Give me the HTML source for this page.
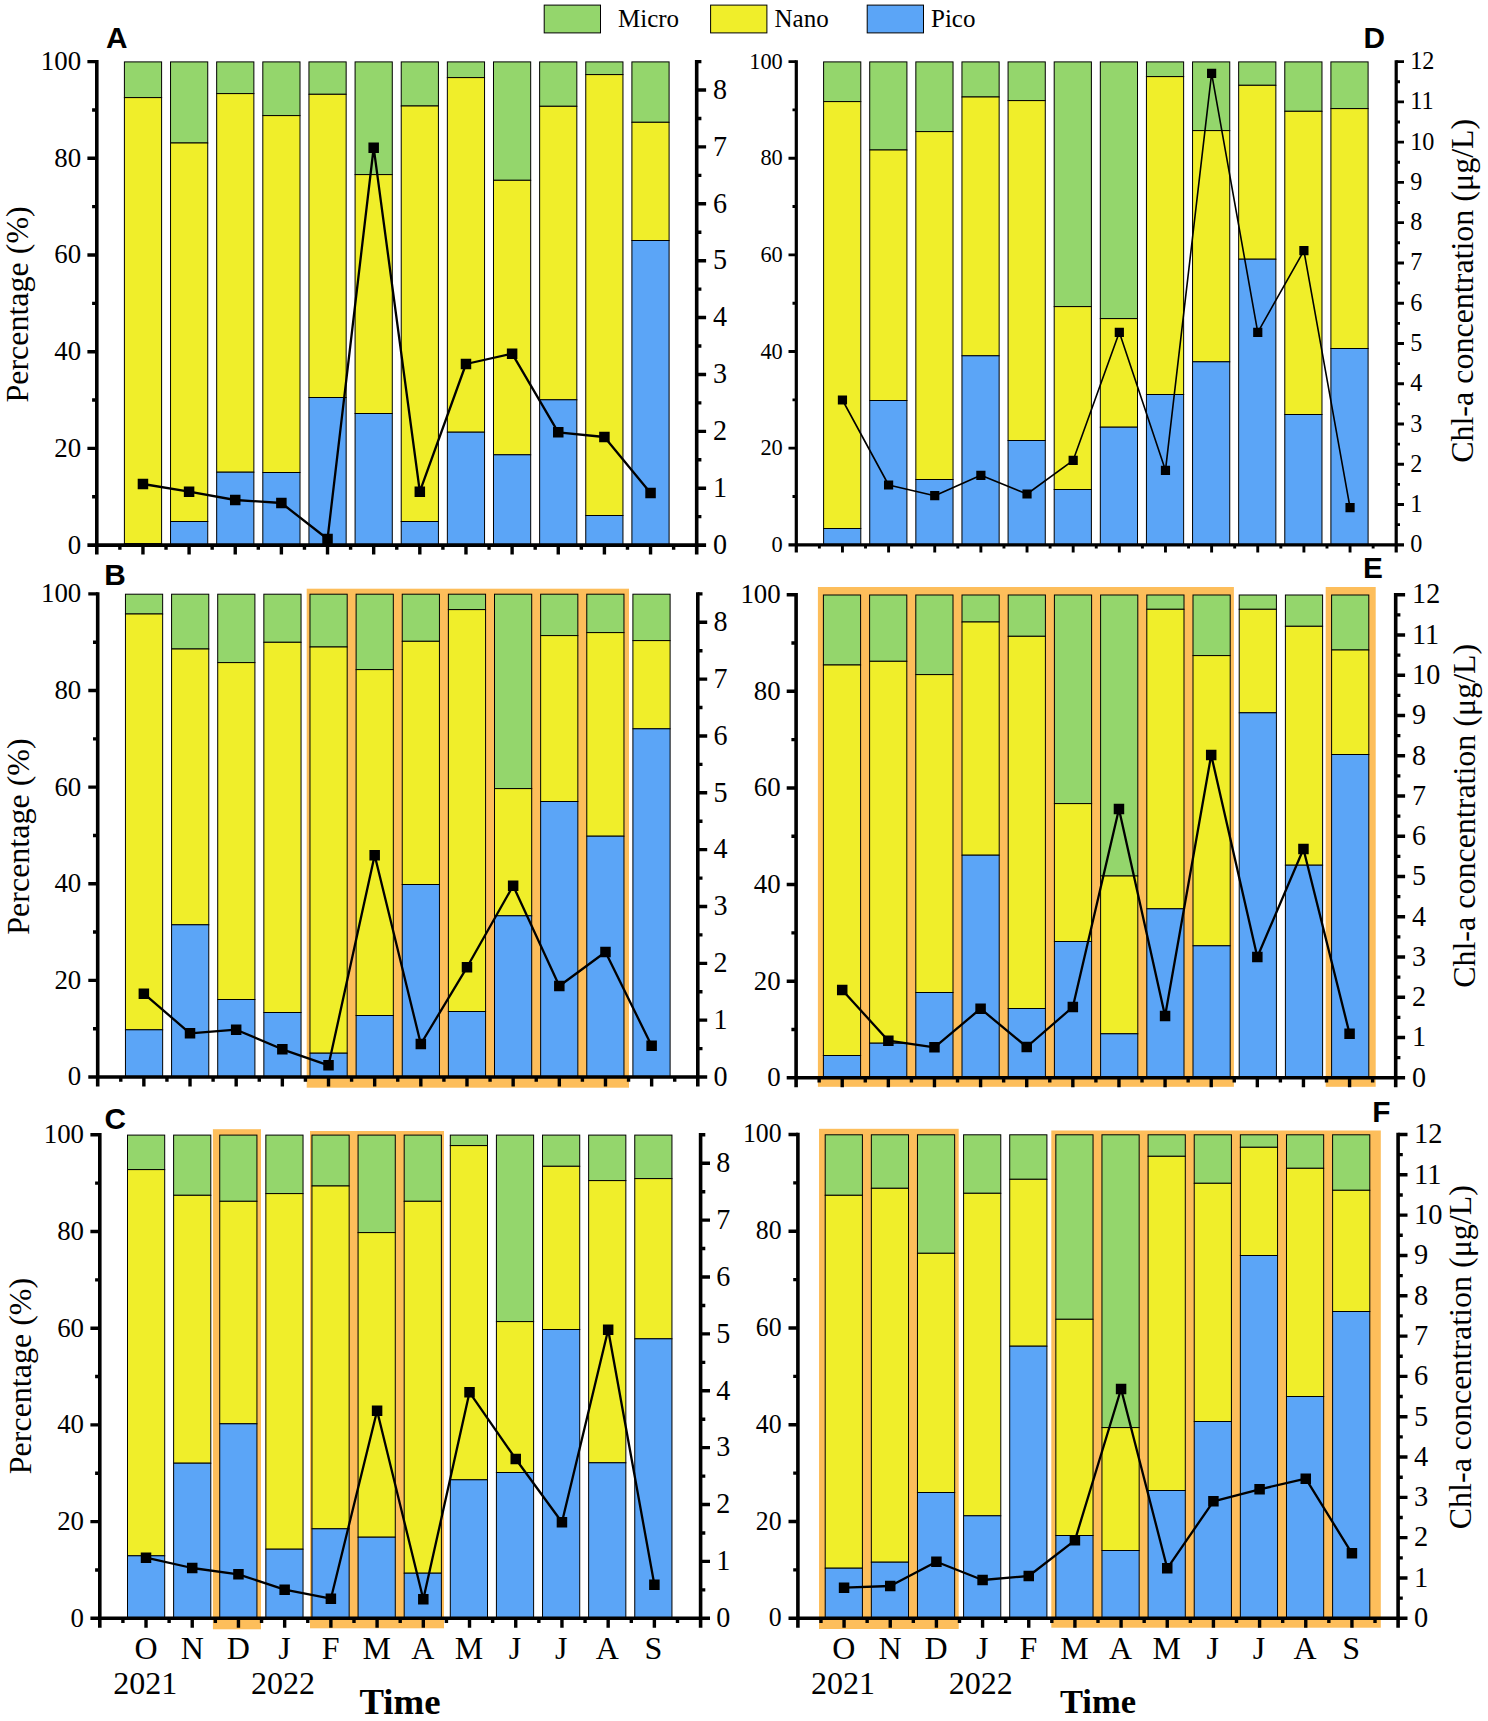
<!DOCTYPE html>
<html><head><meta charset="utf-8"><title>Figure</title>
<style>
html,body{margin:0;padding:0;background:#fff;}
body{width:1488px;height:1721px;overflow:hidden;font-family:"Liberation Serif",serif;}
svg{display:block;}
</style></head><body>
<svg width="1488" height="1721" viewBox="0 0 1488 1721">
<rect width="1488" height="1721" fill="#fff"/>
<g id="panelA">
<g stroke="#000" stroke-width="1">
<rect x="124.4" y="61.9" width="37.2" height="35.7" fill="#94D66C"/><rect x="124.4" y="97.6" width="37.2" height="446.1" fill="#F0EE2A"/><rect x="124.4" y="543.7" width="37.2" height="1.4" fill="#5BA5F7"/>
<rect x="170.54" y="61.9" width="37.2" height="81.1" fill="#94D66C"/><rect x="170.54" y="143" width="37.2" height="378.5" fill="#F0EE2A"/><rect x="170.54" y="521.5" width="37.2" height="23.6" fill="#5BA5F7"/>
<rect x="216.67" y="61.9" width="37.2" height="31.7" fill="#94D66C"/><rect x="216.67" y="93.6" width="37.2" height="378.6" fill="#F0EE2A"/><rect x="216.67" y="472.2" width="37.2" height="72.9" fill="#5BA5F7"/>
<rect x="262.81" y="61.9" width="37.2" height="53.7" fill="#94D66C"/><rect x="262.81" y="115.6" width="37.2" height="356.9" fill="#F0EE2A"/><rect x="262.81" y="472.5" width="37.2" height="72.6" fill="#5BA5F7"/>
<rect x="308.95" y="61.9" width="37.2" height="32.4" fill="#94D66C"/><rect x="308.95" y="94.3" width="37.2" height="303.2" fill="#F0EE2A"/><rect x="308.95" y="397.5" width="37.2" height="147.6" fill="#5BA5F7"/>
<rect x="355.08" y="61.9" width="37.2" height="112.7" fill="#94D66C"/><rect x="355.08" y="174.6" width="37.2" height="238.9" fill="#F0EE2A"/><rect x="355.08" y="413.5" width="37.2" height="131.6" fill="#5BA5F7"/>
<rect x="401.22" y="61.9" width="37.2" height="44.1" fill="#94D66C"/><rect x="401.22" y="106" width="37.2" height="415.5" fill="#F0EE2A"/><rect x="401.22" y="521.5" width="37.2" height="23.6" fill="#5BA5F7"/>
<rect x="447.35" y="61.9" width="37.2" height="15.7" fill="#94D66C"/><rect x="447.35" y="77.6" width="37.2" height="354.6" fill="#F0EE2A"/><rect x="447.35" y="432.2" width="37.2" height="112.9" fill="#5BA5F7"/>
<rect x="493.49" y="61.9" width="37.2" height="118.4" fill="#94D66C"/><rect x="493.49" y="180.3" width="37.2" height="274.5" fill="#F0EE2A"/><rect x="493.49" y="454.8" width="37.2" height="90.3" fill="#5BA5F7"/>
<rect x="539.63" y="61.9" width="37.2" height="44.4" fill="#94D66C"/><rect x="539.63" y="106.3" width="37.2" height="293.5" fill="#F0EE2A"/><rect x="539.63" y="399.8" width="37.2" height="145.3" fill="#5BA5F7"/>
<rect x="585.76" y="61.9" width="37.2" height="12.7" fill="#94D66C"/><rect x="585.76" y="74.6" width="37.2" height="440.9" fill="#F0EE2A"/><rect x="585.76" y="515.5" width="37.2" height="29.6" fill="#5BA5F7"/>
<rect x="631.9" y="61.9" width="37.2" height="60.4" fill="#94D66C"/><rect x="631.9" y="122.3" width="37.2" height="118.2" fill="#F0EE2A"/><rect x="631.9" y="240.5" width="37.2" height="304.6" fill="#5BA5F7"/>
</g>
<g stroke="#000" stroke-width="3.6" fill="none">
<path d="M96.8 59.9V554.5"/>
<path d="M696.7 59.9V554.5"/>
<path d="M87.4 545.1H706.1"/>
</g>
<path d="M92.1 496.75H96.8M87.4 448.4H96.8M92.1 400.05H96.8M87.4 351.7H96.8M92.1 303.35H96.8M87.4 255H96.8M92.1 206.65H96.8M87.4 158.3H96.8M92.1 109.95H96.8M87.4 61.6H96.8M696.7 516.66H701.4M696.7 488.22H706.1M696.7 459.78H701.4M696.7 431.34H706.1M696.7 402.89H701.4M696.7 374.45H706.1M696.7 346.01H701.4M696.7 317.57H706.1M696.7 289.13H701.4M696.7 260.69H706.1M696.7 232.25H701.4M696.7 203.81H706.1M696.7 175.36H701.4M696.7 146.92H706.1M696.7 118.48H701.4M696.7 90.04H706.1M696.7 61.6H701.4M119.87 545.1V549.8M142.95 545.1V554.5M166.02 545.1V549.8M189.09 545.1V554.5M212.17 545.1V549.8M235.24 545.1V554.5M258.31 545.1V549.8M281.38 545.1V554.5M304.46 545.1V549.8M327.53 545.1V554.5M350.6 545.1V549.8M373.68 545.1V554.5M396.75 545.1V549.8M419.82 545.1V554.5M442.9 545.1V549.8M465.97 545.1V554.5M489.04 545.1V549.8M512.12 545.1V554.5M535.19 545.1V549.8M558.26 545.1V554.5M581.33 545.1V549.8M604.41 545.1V554.5M627.48 545.1V549.8M650.55 545.1V554.5M673.63 545.1V549.8" stroke="#000" stroke-width="3.4" fill="none"/>
<g font-family="Liberation Serif, serif" fill="#000">
<text transform="translate(81.1 553.5) scale(0.96 1)" font-size="28" text-anchor="end">0</text>
<text transform="translate(81.1 456.8) scale(0.96 1)" font-size="28" text-anchor="end">20</text>
<text transform="translate(81.1 360.1) scale(0.96 1)" font-size="28" text-anchor="end">40</text>
<text transform="translate(81.1 263.4) scale(0.96 1)" font-size="28" text-anchor="end">60</text>
<text transform="translate(81.1 166.7) scale(0.96 1)" font-size="28" text-anchor="end">80</text>
<text transform="translate(81.1 70) scale(0.96 1)" font-size="28" text-anchor="end">100</text>
<text transform="translate(713 553.89) scale(0.96 1)" font-size="29.3">0</text>
<text transform="translate(713 497.01) scale(0.96 1)" font-size="29.3">1</text>
<text transform="translate(713 440.13) scale(0.96 1)" font-size="29.3">2</text>
<text transform="translate(713 383.24) scale(0.96 1)" font-size="29.3">3</text>
<text transform="translate(713 326.36) scale(0.96 1)" font-size="29.3">4</text>
<text transform="translate(713 269.48) scale(0.96 1)" font-size="29.3">5</text>
<text transform="translate(713 212.6) scale(0.96 1)" font-size="29.3">6</text>
<text transform="translate(713 155.71) scale(0.96 1)" font-size="29.3">7</text>
<text transform="translate(713 98.83) scale(0.96 1)" font-size="29.3">8</text>
</g>
<polyline points="142.95,484 189.09,491.7 235.24,500 281.38,503 327.53,539 373.68,147.7 419.82,491.7 465.97,364 512.12,353.7 558.26,432.3 604.41,437 650.55,493" fill="none" stroke="#000" stroke-width="2.3" stroke-linejoin="round"/>
<path d="M137.7 478.75h10.5v10.5h-10.5zM183.84 486.45h10.5v10.5h-10.5zM229.99 494.75h10.5v10.5h-10.5zM276.13 497.75h10.5v10.5h-10.5zM322.28 533.75h10.5v10.5h-10.5zM368.43 142.45h10.5v10.5h-10.5zM414.57 486.45h10.5v10.5h-10.5zM460.72 358.75h10.5v10.5h-10.5zM506.87 348.45h10.5v10.5h-10.5zM553.01 427.05h10.5v10.5h-10.5zM599.16 431.75h10.5v10.5h-10.5zM645.3 487.75h10.5v10.5h-10.5z" fill="#000"/>
<text x="106" y="47.8" font-family="Liberation Sans, sans-serif" font-weight="bold" font-size="29.8">A</text>
<text transform="translate(27.9 304.45) rotate(-90)" text-anchor="middle" font-family="Liberation Serif, serif" font-size="32">Percentage (%)</text>
</g>
<g id="panelB">
<rect x="306.7" y="588.7" width="322.3" height="499" fill="#FDBE5B"/>
<g stroke="#000" stroke-width="1">
<rect x="125.45" y="594.2" width="37.2" height="19.8" fill="#94D66C"/><rect x="125.45" y="614" width="37.2" height="415.8" fill="#F0EE2A"/><rect x="125.45" y="1029.8" width="37.2" height="47.2" fill="#5BA5F7"/>
<rect x="171.58" y="594.2" width="37.2" height="54.8" fill="#94D66C"/><rect x="171.58" y="649" width="37.2" height="275.8" fill="#F0EE2A"/><rect x="171.58" y="924.8" width="37.2" height="152.2" fill="#5BA5F7"/>
<rect x="217.71" y="594.2" width="37.2" height="68.4" fill="#94D66C"/><rect x="217.71" y="662.6" width="37.2" height="336.9" fill="#F0EE2A"/><rect x="217.71" y="999.5" width="37.2" height="77.5" fill="#5BA5F7"/>
<rect x="263.85" y="594.2" width="37.2" height="48.1" fill="#94D66C"/><rect x="263.85" y="642.3" width="37.2" height="370.2" fill="#F0EE2A"/><rect x="263.85" y="1012.5" width="37.2" height="64.5" fill="#5BA5F7"/>
<rect x="309.98" y="594.2" width="37.2" height="52.8" fill="#94D66C"/><rect x="309.98" y="647" width="37.2" height="406.2" fill="#F0EE2A"/><rect x="309.98" y="1053.2" width="37.2" height="23.8" fill="#5BA5F7"/>
<rect x="356.11" y="594.2" width="37.2" height="75.4" fill="#94D66C"/><rect x="356.11" y="669.6" width="37.2" height="345.9" fill="#F0EE2A"/><rect x="356.11" y="1015.5" width="37.2" height="61.5" fill="#5BA5F7"/>
<rect x="402.24" y="594.2" width="37.2" height="47.1" fill="#94D66C"/><rect x="402.24" y="641.3" width="37.2" height="243.2" fill="#F0EE2A"/><rect x="402.24" y="884.5" width="37.2" height="192.5" fill="#5BA5F7"/>
<rect x="448.37" y="594.2" width="37.2" height="15.4" fill="#94D66C"/><rect x="448.37" y="609.6" width="37.2" height="401.9" fill="#F0EE2A"/><rect x="448.37" y="1011.5" width="37.2" height="65.5" fill="#5BA5F7"/>
<rect x="494.5" y="594.2" width="37.2" height="194.4" fill="#94D66C"/><rect x="494.5" y="788.6" width="37.2" height="127.2" fill="#F0EE2A"/><rect x="494.5" y="915.8" width="37.2" height="161.2" fill="#5BA5F7"/>
<rect x="540.64" y="594.2" width="37.2" height="41.4" fill="#94D66C"/><rect x="540.64" y="635.6" width="37.2" height="165.9" fill="#F0EE2A"/><rect x="540.64" y="801.5" width="37.2" height="275.5" fill="#5BA5F7"/>
<rect x="586.77" y="594.2" width="37.2" height="38.4" fill="#94D66C"/><rect x="586.77" y="632.6" width="37.2" height="203.6" fill="#F0EE2A"/><rect x="586.77" y="836.2" width="37.2" height="240.8" fill="#5BA5F7"/>
<rect x="632.9" y="594.2" width="37.2" height="46.4" fill="#94D66C"/><rect x="632.9" y="640.6" width="37.2" height="88.2" fill="#F0EE2A"/><rect x="632.9" y="728.8" width="37.2" height="348.2" fill="#5BA5F7"/>
</g>
<g stroke="#000" stroke-width="3.6" fill="none">
<path d="M97.7 592.2V1086.4"/>
<path d="M697.8 592.2V1086.4"/>
<path d="M88.3 1077H707.2"/>
</g>
<path d="M93 1028.69H97.7M88.3 980.38H97.7M93 932.07H97.7M88.3 883.76H97.7M93 835.45H97.7M88.3 787.14H97.7M93 738.83H97.7M88.3 690.52H97.7M93 642.21H97.7M88.3 593.9H97.7M697.8 1048.58H702.5M697.8 1020.16H707.2M697.8 991.75H702.5M697.8 963.33H707.2M697.8 934.91H702.5M697.8 906.49H707.2M697.8 878.08H702.5M697.8 849.66H707.2M697.8 821.24H702.5M697.8 792.82H707.2M697.8 764.41H702.5M697.8 735.99H707.2M697.8 707.57H702.5M697.8 679.15H707.2M697.8 650.74H702.5M697.8 622.32H707.2M697.8 593.9H702.5M120.78 1077V1081.7M143.86 1077V1086.4M166.94 1077V1081.7M190.02 1077V1086.4M213.1 1077V1081.7M236.18 1077V1086.4M259.27 1077V1081.7M282.35 1077V1086.4M305.43 1077V1081.7M328.51 1077V1086.4M351.59 1077V1081.7M374.67 1077V1086.4M397.75 1077V1081.7M420.83 1077V1086.4M443.91 1077V1081.7M466.99 1077V1086.4M490.07 1077V1081.7M513.15 1077V1086.4M536.23 1077V1081.7M559.32 1077V1086.4M582.4 1077V1081.7M605.48 1077V1086.4M628.56 1077V1081.7M651.64 1077V1086.4M674.72 1077V1081.7" stroke="#000" stroke-width="3.4" fill="none"/>
<g font-family="Liberation Serif, serif" fill="#000">
<text transform="translate(81.3 1085.4) scale(0.96 1)" font-size="28" text-anchor="end">0</text>
<text transform="translate(81.3 988.78) scale(0.96 1)" font-size="28" text-anchor="end">20</text>
<text transform="translate(81.3 892.16) scale(0.96 1)" font-size="28" text-anchor="end">40</text>
<text transform="translate(81.3 795.54) scale(0.96 1)" font-size="28" text-anchor="end">60</text>
<text transform="translate(81.3 698.92) scale(0.96 1)" font-size="28" text-anchor="end">80</text>
<text transform="translate(81.3 602.3) scale(0.96 1)" font-size="28" text-anchor="end">100</text>
<text transform="translate(713.4 1085.79) scale(0.96 1)" font-size="29.3">0</text>
<text transform="translate(713.4 1028.95) scale(0.96 1)" font-size="29.3">1</text>
<text transform="translate(713.4 972.12) scale(0.96 1)" font-size="29.3">2</text>
<text transform="translate(713.4 915.28) scale(0.96 1)" font-size="29.3">3</text>
<text transform="translate(713.4 858.45) scale(0.96 1)" font-size="29.3">4</text>
<text transform="translate(713.4 801.61) scale(0.96 1)" font-size="29.3">5</text>
<text transform="translate(713.4 744.78) scale(0.96 1)" font-size="29.3">6</text>
<text transform="translate(713.4 687.94) scale(0.96 1)" font-size="29.3">7</text>
<text transform="translate(713.4 631.11) scale(0.96 1)" font-size="29.3">8</text>
</g>
<polyline points="143.86,993.7 190.02,1033.3 236.18,1029.7 282.35,1049.3 328.51,1065.3 374.67,855.3 420.83,1044 466.99,967.3 513.15,885.7 559.32,986 605.48,952 651.64,1045.7" fill="none" stroke="#000" stroke-width="2.3" stroke-linejoin="round"/>
<path d="M138.61 988.45h10.5v10.5h-10.5zM184.77 1028.05h10.5v10.5h-10.5zM230.93 1024.45h10.5v10.5h-10.5zM277.1 1044.05h10.5v10.5h-10.5zM323.26 1060.05h10.5v10.5h-10.5zM369.42 850.05h10.5v10.5h-10.5zM415.58 1038.75h10.5v10.5h-10.5zM461.74 962.05h10.5v10.5h-10.5zM507.9 880.45h10.5v10.5h-10.5zM554.07 980.75h10.5v10.5h-10.5zM600.23 946.75h10.5v10.5h-10.5zM646.39 1040.45h10.5v10.5h-10.5z" fill="#000"/>
<text x="104.3" y="584.6" font-family="Liberation Sans, sans-serif" font-weight="bold" font-size="29.8">B</text>
<text transform="translate(28.8 836.55) rotate(-90)" text-anchor="middle" font-family="Liberation Serif, serif" font-size="32">Percentage (%)</text>
</g>
<g id="panelC">
<rect x="212.9" y="1129.2" width="48.1" height="500.1" fill="#FDBE5B"/>
<rect x="310" y="1131" width="134" height="497.3" fill="#FDBE5B"/>
<g stroke="#000" stroke-width="1">
<rect x="127.5" y="1135.1" width="37.2" height="34.5" fill="#94D66C"/><rect x="127.5" y="1169.6" width="37.2" height="386.2" fill="#F0EE2A"/><rect x="127.5" y="1555.8" width="37.2" height="62.5" fill="#5BA5F7"/>
<rect x="173.61" y="1135.1" width="37.2" height="60.2" fill="#94D66C"/><rect x="173.61" y="1195.3" width="37.2" height="267.9" fill="#F0EE2A"/><rect x="173.61" y="1463.2" width="37.2" height="155.1" fill="#5BA5F7"/>
<rect x="219.73" y="1135.1" width="37.2" height="66.2" fill="#94D66C"/><rect x="219.73" y="1201.3" width="37.2" height="222.5" fill="#F0EE2A"/><rect x="219.73" y="1423.8" width="37.2" height="194.5" fill="#5BA5F7"/>
<rect x="265.84" y="1135.1" width="37.2" height="58.5" fill="#94D66C"/><rect x="265.84" y="1193.6" width="37.2" height="355.6" fill="#F0EE2A"/><rect x="265.84" y="1549.2" width="37.2" height="69.1" fill="#5BA5F7"/>
<rect x="311.95" y="1135.1" width="37.2" height="50.9" fill="#94D66C"/><rect x="311.95" y="1186" width="37.2" height="342.8" fill="#F0EE2A"/><rect x="311.95" y="1528.8" width="37.2" height="89.5" fill="#5BA5F7"/>
<rect x="358.07" y="1135.1" width="37.2" height="97.5" fill="#94D66C"/><rect x="358.07" y="1232.6" width="37.2" height="304.6" fill="#F0EE2A"/><rect x="358.07" y="1537.2" width="37.2" height="81.1" fill="#5BA5F7"/>
<rect x="404.18" y="1135.1" width="37.2" height="66.2" fill="#94D66C"/><rect x="404.18" y="1201.3" width="37.2" height="371.9" fill="#F0EE2A"/><rect x="404.18" y="1573.2" width="37.2" height="45.1" fill="#5BA5F7"/>
<rect x="450.3" y="1135.1" width="37.2" height="10.5" fill="#94D66C"/><rect x="450.3" y="1145.6" width="37.2" height="334.2" fill="#F0EE2A"/><rect x="450.3" y="1479.8" width="37.2" height="138.5" fill="#5BA5F7"/>
<rect x="496.41" y="1135.1" width="37.2" height="186.5" fill="#94D66C"/><rect x="496.41" y="1321.6" width="37.2" height="150.9" fill="#F0EE2A"/><rect x="496.41" y="1472.5" width="37.2" height="145.8" fill="#5BA5F7"/>
<rect x="542.52" y="1135.1" width="37.2" height="31.2" fill="#94D66C"/><rect x="542.52" y="1166.3" width="37.2" height="163.2" fill="#F0EE2A"/><rect x="542.52" y="1329.5" width="37.2" height="288.8" fill="#5BA5F7"/>
<rect x="588.64" y="1135.1" width="37.2" height="45.5" fill="#94D66C"/><rect x="588.64" y="1180.6" width="37.2" height="282.2" fill="#F0EE2A"/><rect x="588.64" y="1462.8" width="37.2" height="155.5" fill="#5BA5F7"/>
<rect x="634.75" y="1135.1" width="37.2" height="43.5" fill="#94D66C"/><rect x="634.75" y="1178.6" width="37.2" height="160.2" fill="#F0EE2A"/><rect x="634.75" y="1338.8" width="37.2" height="279.5" fill="#5BA5F7"/>
</g>
<g stroke="#000" stroke-width="3.6" fill="none">
<path d="M99.8 1133.1V1627.7"/>
<path d="M700.6 1133.1V1627.7"/>
<path d="M90.4 1618.3H710"/>
</g>
<path d="M95.1 1569.95H99.8M90.4 1521.6H99.8M95.1 1473.25H99.8M90.4 1424.9H99.8M95.1 1376.55H99.8M90.4 1328.2H99.8M95.1 1279.85H99.8M90.4 1231.5H99.8M95.1 1183.15H99.8M90.4 1134.8H99.8M700.6 1589.86H705.3M700.6 1561.42H710M700.6 1532.98H705.3M700.6 1504.54H710M700.6 1476.09H705.3M700.6 1447.65H710M700.6 1419.21H705.3M700.6 1390.77H710M700.6 1362.33H705.3M700.6 1333.89H710M700.6 1305.45H705.3M700.6 1277.01H710M700.6 1248.56H705.3M700.6 1220.12H710M700.6 1191.68H705.3M700.6 1163.24H710M700.6 1134.8H705.3M122.91 1618.3V1623M146.02 1618.3V1627.7M169.12 1618.3V1623M192.23 1618.3V1627.7M215.34 1618.3V1623M238.45 1618.3V1627.7M261.55 1618.3V1623M284.66 1618.3V1627.7M307.77 1618.3V1623M330.88 1618.3V1627.7M353.98 1618.3V1623M377.09 1618.3V1627.7M400.2 1618.3V1623M423.31 1618.3V1627.7M446.42 1618.3V1623M469.52 1618.3V1627.7M492.63 1618.3V1623M515.74 1618.3V1627.7M538.85 1618.3V1623M561.95 1618.3V1627.7M585.06 1618.3V1623M608.17 1618.3V1627.7M631.28 1618.3V1623M654.38 1618.3V1627.7M677.49 1618.3V1623" stroke="#000" stroke-width="3.4" fill="none"/>
<g font-family="Liberation Serif, serif" fill="#000">
<text transform="translate(84 1626.7) scale(0.96 1)" font-size="28" text-anchor="end">0</text>
<text transform="translate(84 1530) scale(0.96 1)" font-size="28" text-anchor="end">20</text>
<text transform="translate(84 1433.3) scale(0.96 1)" font-size="28" text-anchor="end">40</text>
<text transform="translate(84 1336.6) scale(0.96 1)" font-size="28" text-anchor="end">60</text>
<text transform="translate(84 1239.9) scale(0.96 1)" font-size="28" text-anchor="end">80</text>
<text transform="translate(84 1143.2) scale(0.96 1)" font-size="28" text-anchor="end">100</text>
<text transform="translate(716.2 1627.09) scale(0.96 1)" font-size="29.3">0</text>
<text transform="translate(716.2 1570.21) scale(0.96 1)" font-size="29.3">1</text>
<text transform="translate(716.2 1513.33) scale(0.96 1)" font-size="29.3">2</text>
<text transform="translate(716.2 1456.44) scale(0.96 1)" font-size="29.3">3</text>
<text transform="translate(716.2 1399.56) scale(0.96 1)" font-size="29.3">4</text>
<text transform="translate(716.2 1342.68) scale(0.96 1)" font-size="29.3">5</text>
<text transform="translate(716.2 1285.8) scale(0.96 1)" font-size="29.3">6</text>
<text transform="translate(716.2 1228.91) scale(0.96 1)" font-size="29.3">7</text>
<text transform="translate(716.2 1172.03) scale(0.96 1)" font-size="29.3">8</text>
</g>
<polyline points="146.02,1557.7 192.23,1568 238.45,1574.3 284.66,1589.7 330.88,1598.7 377.09,1410.7 423.31,1599.3 469.52,1392.3 515.74,1459 561.95,1522.3 608.17,1329.7 654.38,1584.7" fill="none" stroke="#000" stroke-width="2.3" stroke-linejoin="round"/>
<path d="M140.77 1552.45h10.5v10.5h-10.5zM186.98 1562.75h10.5v10.5h-10.5zM233.2 1569.05h10.5v10.5h-10.5zM279.41 1584.45h10.5v10.5h-10.5zM325.63 1593.45h10.5v10.5h-10.5zM371.84 1405.45h10.5v10.5h-10.5zM418.06 1594.05h10.5v10.5h-10.5zM464.27 1387.05h10.5v10.5h-10.5zM510.49 1453.75h10.5v10.5h-10.5zM556.7 1517.05h10.5v10.5h-10.5zM602.92 1324.45h10.5v10.5h-10.5zM649.13 1579.45h10.5v10.5h-10.5z" fill="#000"/>
<text x="104.6" y="1129" font-family="Liberation Sans, sans-serif" font-weight="bold" font-size="29.8">C</text>
<text transform="translate(30.9 1376.05) rotate(-90)" text-anchor="middle" font-family="Liberation Serif, serif" font-size="32">Percentage (%)</text>
<g font-family="Liberation Serif, serif" font-size="32" text-anchor="middle">
<text x="146.1" y="1659">O</text>
<text x="192.21" y="1659">N</text>
<text x="238.33" y="1659">D</text>
<text x="284.44" y="1659">J</text>
<text x="330.55" y="1659">F</text>
<text x="376.67" y="1659">M</text>
<text x="422.78" y="1659">A</text>
<text x="468.9" y="1659">M</text>
<text x="515.01" y="1659">J</text>
<text x="561.12" y="1659">J</text>
<text x="607.24" y="1659">A</text>
<text x="653.35" y="1659">S</text>
<text x="145.3" y="1694">2021</text>
<text x="282.94" y="1694">2022</text>
</g>
<text x="400" y="1714.4" text-anchor="middle" font-family="Liberation Serif, serif" font-weight="bold" font-size="36.8">Time</text>
</g>
<g id="panelD">
<g stroke="#000" stroke-width="1">
<rect x="823.6" y="61.9" width="37.2" height="39.7" fill="#94D66C"/><rect x="823.6" y="101.6" width="37.2" height="426.9" fill="#F0EE2A"/><rect x="823.6" y="528.5" width="37.2" height="16.3" fill="#5BA5F7"/>
<rect x="869.72" y="61.9" width="37.2" height="88.1" fill="#94D66C"/><rect x="869.72" y="150" width="37.2" height="250.5" fill="#F0EE2A"/><rect x="869.72" y="400.5" width="37.2" height="144.3" fill="#5BA5F7"/>
<rect x="915.84" y="61.9" width="37.2" height="69.7" fill="#94D66C"/><rect x="915.84" y="131.6" width="37.2" height="347.9" fill="#F0EE2A"/><rect x="915.84" y="479.5" width="37.2" height="65.3" fill="#5BA5F7"/>
<rect x="961.95" y="61.9" width="37.2" height="35.1" fill="#94D66C"/><rect x="961.95" y="97" width="37.2" height="258.8" fill="#F0EE2A"/><rect x="961.95" y="355.8" width="37.2" height="189" fill="#5BA5F7"/>
<rect x="1008.07" y="61.9" width="37.2" height="38.7" fill="#94D66C"/><rect x="1008.07" y="100.6" width="37.2" height="339.9" fill="#F0EE2A"/><rect x="1008.07" y="440.5" width="37.2" height="104.3" fill="#5BA5F7"/>
<rect x="1054.19" y="61.9" width="37.2" height="244.7" fill="#94D66C"/><rect x="1054.19" y="306.6" width="37.2" height="182.9" fill="#F0EE2A"/><rect x="1054.19" y="489.5" width="37.2" height="55.3" fill="#5BA5F7"/>
<rect x="1100.31" y="61.9" width="37.2" height="256.7" fill="#94D66C"/><rect x="1100.31" y="318.6" width="37.2" height="108.6" fill="#F0EE2A"/><rect x="1100.31" y="427.2" width="37.2" height="117.6" fill="#5BA5F7"/>
<rect x="1146.43" y="61.9" width="37.2" height="14.7" fill="#94D66C"/><rect x="1146.43" y="76.6" width="37.2" height="317.9" fill="#F0EE2A"/><rect x="1146.43" y="394.5" width="37.2" height="150.3" fill="#5BA5F7"/>
<rect x="1192.55" y="61.9" width="37.2" height="68.7" fill="#94D66C"/><rect x="1192.55" y="130.6" width="37.2" height="231.2" fill="#F0EE2A"/><rect x="1192.55" y="361.8" width="37.2" height="183" fill="#5BA5F7"/>
<rect x="1238.66" y="61.9" width="37.2" height="23.4" fill="#94D66C"/><rect x="1238.66" y="85.3" width="37.2" height="173.9" fill="#F0EE2A"/><rect x="1238.66" y="259.2" width="37.2" height="285.6" fill="#5BA5F7"/>
<rect x="1284.78" y="61.9" width="37.2" height="49.4" fill="#94D66C"/><rect x="1284.78" y="111.3" width="37.2" height="303.2" fill="#F0EE2A"/><rect x="1284.78" y="414.5" width="37.2" height="130.3" fill="#5BA5F7"/>
<rect x="1330.9" y="61.9" width="37.2" height="46.7" fill="#94D66C"/><rect x="1330.9" y="108.6" width="37.2" height="239.9" fill="#F0EE2A"/><rect x="1330.9" y="348.5" width="37.2" height="196.3" fill="#5BA5F7"/>
</g>
<g stroke="#000" stroke-width="3.2" fill="none">
<path d="M796.3 60.15V552.6"/>
<path d="M1396.2 60.15V552.6"/>
<path d="M788.5 544.8H1404"/>
</g>
<path d="M792.5 496.48H796.3M788.5 448.16H796.3M792.5 399.84H796.3M788.5 351.52H796.3M792.5 303.2H796.3M788.5 254.88H796.3M792.5 206.56H796.3M788.5 158.24H796.3M792.5 109.92H796.3M788.5 61.6H796.3M1396.2 524.67H1400M1396.2 504.53H1404M1396.2 484.4H1400M1396.2 464.27H1404M1396.2 444.13H1400M1396.2 424H1404M1396.2 403.87H1400M1396.2 383.73H1404M1396.2 363.6H1400M1396.2 343.47H1404M1396.2 323.33H1400M1396.2 303.2H1404M1396.2 283.07H1400M1396.2 262.93H1404M1396.2 242.8H1400M1396.2 222.67H1404M1396.2 202.53H1400M1396.2 182.4H1404M1396.2 162.27H1400M1396.2 142.13H1404M1396.2 122H1400M1396.2 101.87H1404M1396.2 81.73H1400M1396.2 61.6H1404M819.37 544.8V548.6M842.45 544.8V552.6M865.52 544.8V548.6M888.59 544.8V552.6M911.67 544.8V548.6M934.74 544.8V552.6M957.81 544.8V548.6M980.88 544.8V552.6M1003.96 544.8V548.6M1027.03 544.8V552.6M1050.1 544.8V548.6M1073.18 544.8V552.6M1096.25 544.8V548.6M1119.32 544.8V552.6M1142.4 544.8V548.6M1165.47 544.8V552.6M1188.54 544.8V548.6M1211.62 544.8V552.6M1234.69 544.8V548.6M1257.76 544.8V552.6M1280.83 544.8V548.6M1303.91 544.8V552.6M1326.98 544.8V548.6M1350.05 544.8V552.6M1373.13 544.8V548.6" stroke="#000" stroke-width="2.9" fill="none"/>
<g font-family="Liberation Serif, serif" fill="#000">
<text transform="translate(782.8 551.79) scale(0.96 1)" font-size="23.3" text-anchor="end">0</text>
<text transform="translate(782.8 455.15) scale(0.96 1)" font-size="23.3" text-anchor="end">20</text>
<text transform="translate(782.8 358.51) scale(0.96 1)" font-size="23.3" text-anchor="end">40</text>
<text transform="translate(782.8 261.87) scale(0.96 1)" font-size="23.3" text-anchor="end">60</text>
<text transform="translate(782.8 165.23) scale(0.96 1)" font-size="23.3" text-anchor="end">80</text>
<text transform="translate(782.8 68.59) scale(0.96 1)" font-size="23.3" text-anchor="end">100</text>
<text transform="translate(1410.2 552.36) scale(0.96 1)" font-size="25.2">0</text>
<text transform="translate(1410.2 512.09) scale(0.96 1)" font-size="25.2">1</text>
<text transform="translate(1410.2 471.83) scale(0.96 1)" font-size="25.2">2</text>
<text transform="translate(1410.2 431.56) scale(0.96 1)" font-size="25.2">3</text>
<text transform="translate(1410.2 391.29) scale(0.96 1)" font-size="25.2">4</text>
<text transform="translate(1410.2 351.03) scale(0.96 1)" font-size="25.2">5</text>
<text transform="translate(1410.2 310.76) scale(0.96 1)" font-size="25.2">6</text>
<text transform="translate(1410.2 270.49) scale(0.96 1)" font-size="25.2">7</text>
<text transform="translate(1410.2 230.23) scale(0.96 1)" font-size="25.2">8</text>
<text transform="translate(1410.2 189.96) scale(0.96 1)" font-size="25.2">9</text>
<text transform="translate(1410.2 149.69) scale(0.96 1)" font-size="25.2">10</text>
<text transform="translate(1410.2 109.43) scale(0.96 1)" font-size="25.2">11</text>
<text transform="translate(1410.2 69.16) scale(0.96 1)" font-size="25.2">12</text>
</g>
<polyline points="842.45,400 888.59,485 934.74,495.7 980.88,475.3 1027.03,494 1073.18,460.3 1119.32,332.3 1165.47,470.3 1211.62,73.3 1257.76,332.3 1303.91,250.7 1350.05,507.7" fill="none" stroke="#000" stroke-width="1.6" stroke-linejoin="round"/>
<path d="M837.85 395.4h9.2v9.2h-9.2zM883.99 480.4h9.2v9.2h-9.2zM930.14 491.1h9.2v9.2h-9.2zM976.28 470.7h9.2v9.2h-9.2zM1022.43 489.4h9.2v9.2h-9.2zM1068.58 455.7h9.2v9.2h-9.2zM1114.72 327.7h9.2v9.2h-9.2zM1160.87 465.7h9.2v9.2h-9.2zM1207.02 68.7h9.2v9.2h-9.2zM1253.16 327.7h9.2v9.2h-9.2zM1299.31 246.1h9.2v9.2h-9.2zM1345.45 503.1h9.2v9.2h-9.2z" fill="#000"/>
<text x="1363.5" y="48.4" font-family="Liberation Sans, sans-serif" font-weight="bold" font-size="29.8">D</text>
<text transform="translate(1473.2 290.8) rotate(-90)" text-anchor="middle" font-family="Liberation Serif, serif" font-size="32">Chl-a concentration (μg/L)</text>
</g>
<g id="panelE">
<rect x="817.9" y="587" width="416" height="499.8" fill="#FDBE5B"/>
<rect x="1325.7" y="587" width="50" height="499.8" fill="#FDBE5B"/>
<g stroke="#000" stroke-width="1">
<rect x="823.4" y="595" width="37.2" height="70" fill="#94D66C"/><rect x="823.4" y="665" width="37.2" height="390.5" fill="#F0EE2A"/><rect x="823.4" y="1055.5" width="37.2" height="22.3" fill="#5BA5F7"/>
<rect x="869.6" y="595" width="37.2" height="66.3" fill="#94D66C"/><rect x="869.6" y="661.3" width="37.2" height="381.9" fill="#F0EE2A"/><rect x="869.6" y="1043.2" width="37.2" height="34.6" fill="#5BA5F7"/>
<rect x="915.8" y="595" width="37.2" height="79.6" fill="#94D66C"/><rect x="915.8" y="674.6" width="37.2" height="317.9" fill="#F0EE2A"/><rect x="915.8" y="992.5" width="37.2" height="85.3" fill="#5BA5F7"/>
<rect x="962" y="595" width="37.2" height="27" fill="#94D66C"/><rect x="962" y="622" width="37.2" height="233.2" fill="#F0EE2A"/><rect x="962" y="855.2" width="37.2" height="222.6" fill="#5BA5F7"/>
<rect x="1008.2" y="595" width="37.2" height="41.3" fill="#94D66C"/><rect x="1008.2" y="636.3" width="37.2" height="372.2" fill="#F0EE2A"/><rect x="1008.2" y="1008.5" width="37.2" height="69.3" fill="#5BA5F7"/>
<rect x="1054.4" y="595" width="37.2" height="208.6" fill="#94D66C"/><rect x="1054.4" y="803.6" width="37.2" height="137.9" fill="#F0EE2A"/><rect x="1054.4" y="941.5" width="37.2" height="136.3" fill="#5BA5F7"/>
<rect x="1100.6" y="595" width="37.2" height="281" fill="#94D66C"/><rect x="1100.6" y="876" width="37.2" height="157.8" fill="#F0EE2A"/><rect x="1100.6" y="1033.8" width="37.2" height="44" fill="#5BA5F7"/>
<rect x="1146.8" y="595" width="37.2" height="14.3" fill="#94D66C"/><rect x="1146.8" y="609.3" width="37.2" height="299.5" fill="#F0EE2A"/><rect x="1146.8" y="908.8" width="37.2" height="169" fill="#5BA5F7"/>
<rect x="1193" y="595" width="37.2" height="60.6" fill="#94D66C"/><rect x="1193" y="655.6" width="37.2" height="290.2" fill="#F0EE2A"/><rect x="1193" y="945.8" width="37.2" height="132" fill="#5BA5F7"/>
<rect x="1239.2" y="595" width="37.2" height="14.3" fill="#94D66C"/><rect x="1239.2" y="609.3" width="37.2" height="103.5" fill="#F0EE2A"/><rect x="1239.2" y="712.8" width="37.2" height="365" fill="#5BA5F7"/>
<rect x="1285.4" y="595" width="37.2" height="31.3" fill="#94D66C"/><rect x="1285.4" y="626.3" width="37.2" height="238.9" fill="#F0EE2A"/><rect x="1285.4" y="865.2" width="37.2" height="212.6" fill="#5BA5F7"/>
<rect x="1331.6" y="595" width="37.2" height="55" fill="#94D66C"/><rect x="1331.6" y="650" width="37.2" height="104.5" fill="#F0EE2A"/><rect x="1331.6" y="754.5" width="37.2" height="323.3" fill="#5BA5F7"/>
</g>
<g stroke="#000" stroke-width="3.6" fill="none">
<path d="M796.1 593V1087.2"/>
<path d="M1395.7 593V1087.2"/>
<path d="M786.7 1077.8H1405.1"/>
</g>
<path d="M791.4 1029.49H796.1M786.7 981.18H796.1M791.4 932.87H796.1M786.7 884.56H796.1M791.4 836.25H796.1M786.7 787.94H796.1M791.4 739.63H796.1M786.7 691.32H796.1M791.4 643.01H796.1M786.7 594.7H796.1M1395.7 1057.67H1400.4M1395.7 1037.54H1405.1M1395.7 1017.41H1400.4M1395.7 997.28H1405.1M1395.7 977.15H1400.4M1395.7 957.02H1405.1M1395.7 936.9H1400.4M1395.7 916.77H1405.1M1395.7 896.64H1400.4M1395.7 876.51H1405.1M1395.7 856.38H1400.4M1395.7 836.25H1405.1M1395.7 816.12H1400.4M1395.7 795.99H1405.1M1395.7 775.86H1400.4M1395.7 755.73H1405.1M1395.7 735.6H1400.4M1395.7 715.47H1405.1M1395.7 695.35H1400.4M1395.7 675.22H1405.1M1395.7 655.09H1400.4M1395.7 634.96H1405.1M1395.7 614.83H1400.4M1395.7 594.7H1405.1M819.16 1077.8V1082.5M842.22 1077.8V1087.2M865.28 1077.8V1082.5M888.35 1077.8V1087.2M911.41 1077.8V1082.5M934.47 1077.8V1087.2M957.53 1077.8V1082.5M980.59 1077.8V1087.2M1003.65 1077.8V1082.5M1026.72 1077.8V1087.2M1049.78 1077.8V1082.5M1072.84 1077.8V1087.2M1095.9 1077.8V1082.5M1118.96 1077.8V1087.2M1142.02 1077.8V1082.5M1165.08 1077.8V1087.2M1188.15 1077.8V1082.5M1211.21 1077.8V1087.2M1234.27 1077.8V1082.5M1257.33 1077.8V1087.2M1280.39 1077.8V1082.5M1303.45 1077.8V1087.2M1326.52 1077.8V1082.5M1349.58 1077.8V1087.2M1372.64 1077.8V1082.5" stroke="#000" stroke-width="3.4" fill="none"/>
<g font-family="Liberation Serif, serif" fill="#000">
<text transform="translate(780.7 1086.2) scale(0.96 1)" font-size="28" text-anchor="end">0</text>
<text transform="translate(780.7 989.58) scale(0.96 1)" font-size="28" text-anchor="end">20</text>
<text transform="translate(780.7 892.96) scale(0.96 1)" font-size="28" text-anchor="end">40</text>
<text transform="translate(780.7 796.34) scale(0.96 1)" font-size="28" text-anchor="end">60</text>
<text transform="translate(780.7 699.72) scale(0.96 1)" font-size="28" text-anchor="end">80</text>
<text transform="translate(780.7 603.1) scale(0.96 1)" font-size="28" text-anchor="end">100</text>
<text transform="translate(1412.1 1086.59) scale(0.96 1)" font-size="29.3">0</text>
<text transform="translate(1412.1 1046.33) scale(0.96 1)" font-size="29.3">1</text>
<text transform="translate(1412.1 1006.07) scale(0.96 1)" font-size="29.3">2</text>
<text transform="translate(1412.1 965.81) scale(0.96 1)" font-size="29.3">3</text>
<text transform="translate(1412.1 925.56) scale(0.96 1)" font-size="29.3">4</text>
<text transform="translate(1412.1 885.3) scale(0.96 1)" font-size="29.3">5</text>
<text transform="translate(1412.1 845.04) scale(0.96 1)" font-size="29.3">6</text>
<text transform="translate(1412.1 804.78) scale(0.96 1)" font-size="29.3">7</text>
<text transform="translate(1412.1 764.52) scale(0.96 1)" font-size="29.3">8</text>
<text transform="translate(1412.1 724.26) scale(0.96 1)" font-size="29.3">9</text>
<text transform="translate(1412.1 684.01) scale(0.96 1)" font-size="29.3">10</text>
<text transform="translate(1412.1 643.75) scale(0.96 1)" font-size="29.3">11</text>
<text transform="translate(1412.1 603.49) scale(0.96 1)" font-size="29.3">12</text>
</g>
<polyline points="842.22,990 888.35,1040.7 934.47,1047.3 980.59,1008.7 1026.72,1047 1072.84,1007 1118.96,809 1165.08,1016 1211.21,755 1257.33,957 1303.45,849 1349.58,1033.7" fill="none" stroke="#000" stroke-width="2.3" stroke-linejoin="round"/>
<path d="M836.97 984.75h10.5v10.5h-10.5zM883.1 1035.45h10.5v10.5h-10.5zM929.22 1042.05h10.5v10.5h-10.5zM975.34 1003.45h10.5v10.5h-10.5zM1021.47 1041.75h10.5v10.5h-10.5zM1067.59 1001.75h10.5v10.5h-10.5zM1113.71 803.75h10.5v10.5h-10.5zM1159.83 1010.75h10.5v10.5h-10.5zM1205.96 749.75h10.5v10.5h-10.5zM1252.08 951.75h10.5v10.5h-10.5zM1298.2 843.75h10.5v10.5h-10.5zM1344.33 1028.45h10.5v10.5h-10.5z" fill="#000"/>
<text x="1362.9" y="577.5" font-family="Liberation Sans, sans-serif" font-weight="bold" font-size="29.8">E</text>
<text transform="translate(1474.5 815.8) rotate(-90)" text-anchor="middle" font-family="Liberation Serif, serif" font-size="32">Chl-a concentration (μg/L)</text>
</g>
<g id="panelF">
<rect x="819" y="1128.8" width="139.7" height="500.2" fill="#FDBE5B"/>
<rect x="1051.3" y="1130.5" width="329.5" height="497.2" fill="#FDBE5B"/>
<g stroke="#000" stroke-width="1">
<rect x="825.2" y="1134.8" width="37.2" height="60.5" fill="#94D66C"/><rect x="825.2" y="1195.3" width="37.2" height="372.9" fill="#F0EE2A"/><rect x="825.2" y="1568.2" width="37.2" height="50.1" fill="#5BA5F7"/>
<rect x="871.33" y="1134.8" width="37.2" height="53.5" fill="#94D66C"/><rect x="871.33" y="1188.3" width="37.2" height="373.9" fill="#F0EE2A"/><rect x="871.33" y="1562.2" width="37.2" height="56.1" fill="#5BA5F7"/>
<rect x="917.45" y="1134.8" width="37.2" height="118.5" fill="#94D66C"/><rect x="917.45" y="1253.3" width="37.2" height="239.2" fill="#F0EE2A"/><rect x="917.45" y="1492.5" width="37.2" height="125.8" fill="#5BA5F7"/>
<rect x="963.58" y="1134.8" width="37.2" height="58.5" fill="#94D66C"/><rect x="963.58" y="1193.3" width="37.2" height="322.5" fill="#F0EE2A"/><rect x="963.58" y="1515.8" width="37.2" height="102.5" fill="#5BA5F7"/>
<rect x="1009.71" y="1134.8" width="37.2" height="44.5" fill="#94D66C"/><rect x="1009.71" y="1179.3" width="37.2" height="166.9" fill="#F0EE2A"/><rect x="1009.71" y="1346.2" width="37.2" height="272.1" fill="#5BA5F7"/>
<rect x="1055.84" y="1134.8" width="37.2" height="184.5" fill="#94D66C"/><rect x="1055.84" y="1319.3" width="37.2" height="216.2" fill="#F0EE2A"/><rect x="1055.84" y="1535.5" width="37.2" height="82.8" fill="#5BA5F7"/>
<rect x="1101.96" y="1134.8" width="37.2" height="292.8" fill="#94D66C"/><rect x="1101.96" y="1427.6" width="37.2" height="122.9" fill="#F0EE2A"/><rect x="1101.96" y="1550.5" width="37.2" height="67.8" fill="#5BA5F7"/>
<rect x="1148.09" y="1134.8" width="37.2" height="21.5" fill="#94D66C"/><rect x="1148.09" y="1156.3" width="37.2" height="334.2" fill="#F0EE2A"/><rect x="1148.09" y="1490.5" width="37.2" height="127.8" fill="#5BA5F7"/>
<rect x="1194.22" y="1134.8" width="37.2" height="48.5" fill="#94D66C"/><rect x="1194.22" y="1183.3" width="37.2" height="238.2" fill="#F0EE2A"/><rect x="1194.22" y="1421.5" width="37.2" height="196.8" fill="#5BA5F7"/>
<rect x="1240.35" y="1134.8" width="37.2" height="12.5" fill="#94D66C"/><rect x="1240.35" y="1147.3" width="37.2" height="108.2" fill="#F0EE2A"/><rect x="1240.35" y="1255.5" width="37.2" height="362.8" fill="#5BA5F7"/>
<rect x="1286.47" y="1134.8" width="37.2" height="33.5" fill="#94D66C"/><rect x="1286.47" y="1168.3" width="37.2" height="228.2" fill="#F0EE2A"/><rect x="1286.47" y="1396.5" width="37.2" height="221.8" fill="#5BA5F7"/>
<rect x="1332.6" y="1134.8" width="37.2" height="55.5" fill="#94D66C"/><rect x="1332.6" y="1190.3" width="37.2" height="121.2" fill="#F0EE2A"/><rect x="1332.6" y="1311.5" width="37.2" height="306.8" fill="#5BA5F7"/>
</g>
<g stroke="#000" stroke-width="3.6" fill="none">
<path d="M797.9 1132.8V1627.7"/>
<path d="M1398.1 1132.8V1627.7"/>
<path d="M788.5 1618.3H1407.5"/>
</g>
<path d="M793.2 1569.92H797.9M788.5 1521.54H797.9M793.2 1473.16H797.9M788.5 1424.78H797.9M793.2 1376.4H797.9M788.5 1328.02H797.9M793.2 1279.64H797.9M788.5 1231.26H797.9M793.2 1182.88H797.9M788.5 1134.5H797.9M1398.1 1598.14H1402.8M1398.1 1577.98H1407.5M1398.1 1557.83H1402.8M1398.1 1537.67H1407.5M1398.1 1517.51H1402.8M1398.1 1497.35H1407.5M1398.1 1477.19H1402.8M1398.1 1457.03H1407.5M1398.1 1436.88H1402.8M1398.1 1416.72H1407.5M1398.1 1396.56H1402.8M1398.1 1376.4H1407.5M1398.1 1356.24H1402.8M1398.1 1336.08H1407.5M1398.1 1315.92H1402.8M1398.1 1295.77H1407.5M1398.1 1275.61H1402.8M1398.1 1255.45H1407.5M1398.1 1235.29H1402.8M1398.1 1215.13H1407.5M1398.1 1194.97H1402.8M1398.1 1174.82H1407.5M1398.1 1154.66H1402.8M1398.1 1134.5H1407.5M820.98 1618.3V1623M844.07 1618.3V1627.7M867.15 1618.3V1623M890.24 1618.3V1627.7M913.32 1618.3V1623M936.41 1618.3V1627.7M959.49 1618.3V1623M982.58 1618.3V1627.7M1005.66 1618.3V1623M1028.75 1618.3V1627.7M1051.83 1618.3V1623M1074.92 1618.3V1627.7M1098 1618.3V1623M1121.08 1618.3V1627.7M1144.17 1618.3V1623M1167.25 1618.3V1627.7M1190.34 1618.3V1623M1213.42 1618.3V1627.7M1236.51 1618.3V1623M1259.59 1618.3V1627.7M1282.68 1618.3V1623M1305.76 1618.3V1627.7M1328.85 1618.3V1623M1351.93 1618.3V1627.7M1375.02 1618.3V1623" stroke="#000" stroke-width="3.4" fill="none"/>
<g font-family="Liberation Serif, serif" fill="#000">
<text transform="translate(781.6 1626.28) scale(0.97 1)" font-size="26.6" text-anchor="end">0</text>
<text transform="translate(781.6 1529.52) scale(0.97 1)" font-size="26.6" text-anchor="end">20</text>
<text transform="translate(781.6 1432.76) scale(0.97 1)" font-size="26.6" text-anchor="end">40</text>
<text transform="translate(781.6 1336) scale(0.97 1)" font-size="26.6" text-anchor="end">60</text>
<text transform="translate(781.6 1239.24) scale(0.97 1)" font-size="26.6" text-anchor="end">80</text>
<text transform="translate(781.6 1142.48) scale(0.97 1)" font-size="26.6" text-anchor="end">100</text>
<text transform="translate(1414.1 1627.09) scale(0.97 1)" font-size="29.3">0</text>
<text transform="translate(1414.1 1586.77) scale(0.97 1)" font-size="29.3">1</text>
<text transform="translate(1414.1 1546.46) scale(0.97 1)" font-size="29.3">2</text>
<text transform="translate(1414.1 1506.14) scale(0.97 1)" font-size="29.3">3</text>
<text transform="translate(1414.1 1465.82) scale(0.97 1)" font-size="29.3">4</text>
<text transform="translate(1414.1 1425.51) scale(0.97 1)" font-size="29.3">5</text>
<text transform="translate(1414.1 1385.19) scale(0.97 1)" font-size="29.3">6</text>
<text transform="translate(1414.1 1344.87) scale(0.97 1)" font-size="29.3">7</text>
<text transform="translate(1414.1 1304.56) scale(0.97 1)" font-size="29.3">8</text>
<text transform="translate(1414.1 1264.24) scale(0.97 1)" font-size="29.3">9</text>
<text transform="translate(1414.1 1223.92) scale(0.97 1)" font-size="29.3">10</text>
<text transform="translate(1414.1 1183.61) scale(0.97 1)" font-size="29.3">11</text>
<text transform="translate(1414.1 1143.29) scale(0.97 1)" font-size="29.3">12</text>
</g>
<polyline points="844.07,1587.7 890.24,1586 936.41,1561.7 982.58,1580 1028.75,1576 1074.92,1540.3 1121.08,1389 1167.25,1568.3 1213.42,1501.3 1259.59,1489.3 1305.76,1478.7 1351.93,1553.3" fill="none" stroke="#000" stroke-width="2.3" stroke-linejoin="round"/>
<path d="M838.82 1582.45h10.5v10.5h-10.5zM884.99 1580.75h10.5v10.5h-10.5zM931.16 1556.45h10.5v10.5h-10.5zM977.33 1574.75h10.5v10.5h-10.5zM1023.5 1570.75h10.5v10.5h-10.5zM1069.67 1535.05h10.5v10.5h-10.5zM1115.83 1383.75h10.5v10.5h-10.5zM1162 1563.05h10.5v10.5h-10.5zM1208.17 1496.05h10.5v10.5h-10.5zM1254.34 1484.05h10.5v10.5h-10.5zM1300.51 1473.45h10.5v10.5h-10.5zM1346.68 1548.05h10.5v10.5h-10.5z" fill="#000"/>
<text x="1372.2" y="1121.8" font-family="Liberation Sans, sans-serif" font-weight="bold" font-size="29.8">F</text>
<text transform="translate(1470.5 1357.2) rotate(-90)" text-anchor="middle" font-family="Liberation Serif, serif" font-size="32">Chl-a concentration (μg/L)</text>
<g font-family="Liberation Serif, serif" font-size="32" text-anchor="middle">
<text x="843.8" y="1659">O</text>
<text x="889.93" y="1659">N</text>
<text x="936.05" y="1659">D</text>
<text x="982.18" y="1659">J</text>
<text x="1028.31" y="1659">F</text>
<text x="1074.44" y="1659">M</text>
<text x="1120.56" y="1659">A</text>
<text x="1166.69" y="1659">M</text>
<text x="1212.82" y="1659">J</text>
<text x="1258.95" y="1659">J</text>
<text x="1305.07" y="1659">A</text>
<text x="1351.2" y="1659">S</text>
<text x="843" y="1694">2021</text>
<text x="980.68" y="1694">2022</text>
</g>
<text x="1098" y="1712.6" text-anchor="middle" font-family="Liberation Serif, serif" font-weight="bold" font-size="34.5">Time</text>
</g>
<g id="legend">
<rect x="544.2" y="5.1" width="56.3" height="27.8" fill="#94D66C" stroke="#000" stroke-width="1"/>
<text x="618" y="26.5" font-family="Liberation Serif, serif" font-size="25">Micro</text>
<rect x="710.6" y="5.1" width="56.3" height="27.8" fill="#F0EE2A" stroke="#000" stroke-width="1"/>
<text x="774.5" y="26.5" font-family="Liberation Serif, serif" font-size="25">Nano</text>
<rect x="867.2" y="5.1" width="56.3" height="27.8" fill="#5BA5F7" stroke="#000" stroke-width="1"/>
<text x="931" y="26.5" font-family="Liberation Serif, serif" font-size="25">Pico</text>
</g>
</svg>
</body></html>
